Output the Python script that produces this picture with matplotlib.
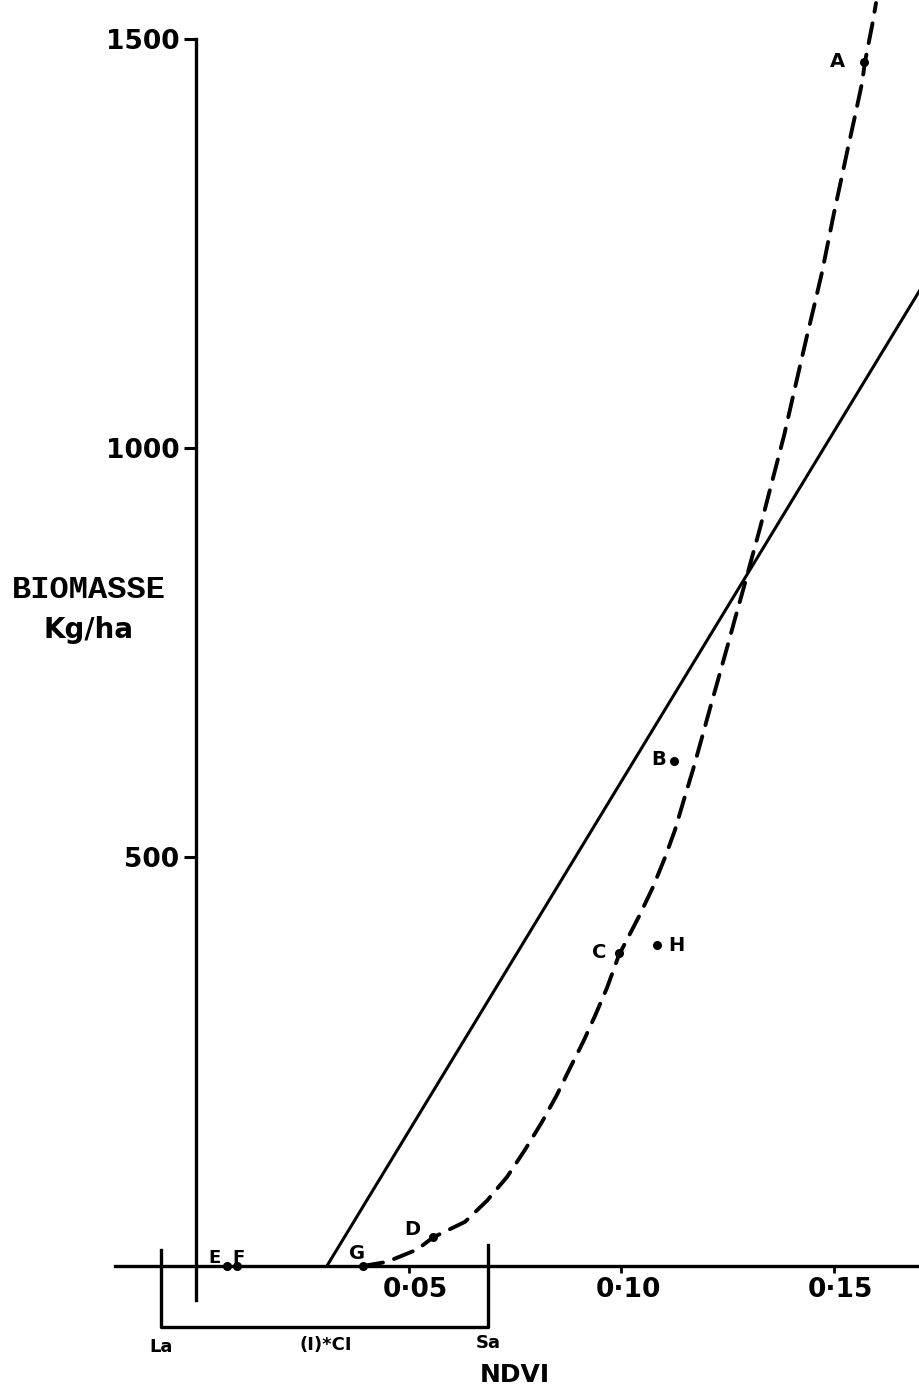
import matplotlib
matplotlib.use("Agg")
import matplotlib.pyplot as plt
from matplotlib.transforms import ScaledTranslation

# Sample sites: NDVI and measured biomass (kg/ha)
site_names = ["A", "B", "C", "D", "E", "F", "G", "H"]
site_ndvi = [0.1572, 0.1125, 0.0995, 0.0558, 0.0073, 0.0096, 0.0393, 0.1085]
site_biomass = [1472, 617, 383, 35, 0, 0, 0, 392]

# Linear regression (solid line)
linear_ndvi = [0.0308, 0.1750]
linear_biomass = [0, 1233]

# Curvilinear fit (dashed line)
curve_ndvi = [0.0393, 0.0449, 0.0520, 0.0558, 0.0633, 0.0685, 0.0732, 0.0774,
              0.0814, 0.0849, 0.0880, 0.0911, 0.0939, 0.0967, 0.0995, 0.1042,
              0.1075, 0.1104, 0.1127, 0.1148, 0.1169, 0.1191, 0.1209, 0.1228,
              0.1249, 0.1268, 0.1287, 0.1308, 0.1327, 0.1346, 0.1367, 0.1384,
              0.1402, 0.1421, 0.1438, 0.1456, 0.1473, 0.1487, 0.1501, 0.1518,
              0.1534, 0.1551, 0.1567, 0.1574, 0.1591, 0.1600]
curve_biomass = [0, 5, 20, 35, 54, 80, 109, 142,
                 176, 209, 242, 274, 306, 340, 380, 427,
                 463, 500, 533, 570, 606, 647, 681, 716,
                 755, 791, 826, 866, 902, 940, 982, 1016,
                 1057, 1100, 1138, 1177, 1215, 1251, 1287, 1328,
                 1367, 1407, 1446, 1472, 1517, 1544]

# Bare-soil NDVI interval
la_ndvi = -0.0082
sa_ndvi = 0.0687

x_ticks = [0.05, 0.10, 0.15]
x_tick_labels = ["0·05", "0·10", "0·15"]
y_ticks = [500, 1000, 1500]
y_tick_labels = ["500", "1000", "1500"]

W, H = 920, 1389
fig = plt.figure(figsize=(W / 100, H / 100), dpi=100)
ax = fig.add_axes([0, 0, 1, 1])
ax.set_xlim(-0.04612, 0.17035)
ax.set_ylim(-150.4, 1547.7)
ax.patch.set_visible(False)

for side in ("top", "right"):
    ax.spines[side].set_visible(False)
ax.spines["left"].set_position(("data", 0))
ax.spines["left"].set_bounds(-42, 1500)
ax.spines["left"].set_linewidth(2.4)
ax.spines["bottom"].set_position(("data", 0))
ax.spines["bottom"].set_bounds(-0.0191, 0.1704)
ax.spines["bottom"].set_linewidth(2.4)

ax.set_yticks(y_ticks, labels=y_tick_labels, fontsize=19, fontweight="bold")
ax.set_xticks(x_ticks, labels=x_tick_labels, fontsize=19, fontweight="bold")
ax.tick_params(axis="y", direction="out", length=9, width=2.2, pad=3)
ax.tick_params(axis="x", direction="out", length=5, width=2.0, pad=3)

# x tick labels sit slightly right of their ticks
shift = ScaledTranslation(5 / 72, 0, fig.dpi_scale_trans)
for lbl in ax.get_xticklabels():
    lbl.set_transform(lbl.get_transform() + shift)

# Regression lines
ax.plot(linear_ndvi, linear_biomass, color="black", lw=2.2, solid_capstyle="butt")
ax.plot(curve_ndvi, curve_biomass, color="black", lw=2.8,
        linestyle=(0, (5.2, 3.0)), dash_capstyle="round")

# Sites
ax.plot(site_ndvi, site_biomass, "o", ms=5.5, color="black", zorder=5)
label_offsets = {
    "A": (-19, 0), "B": (-11, 1), "C": (-14, 0), "D": (-15, 6),
    "E": (-9, 6), "F": (1, 6), "G": (-4, 9), "H": (14, 0),
}
for name, xv, yv in zip(site_names, site_ndvi, site_biomass):
    dx, dy = label_offsets[name]
    ax.annotate(name, (xv, yv), xytext=(dx, dy), textcoords="offset points",
                ha="center", va="center", fontsize=13 if name in "EF" else 14,
                fontweight="bold")

# Bare-soil interval bracket
ax.plot([la_ndvi, la_ndvi, sa_ndvi, sa_ndvi], [20, -74, -74, 26],
        color="black", lw=2.4, clip_on=False)
ax.text(la_ndvi, -99, "La", ha="center", va="center", fontsize=13, fontweight="bold")
ax.text(0.0306, -97, "(I)*CI", ha="center", va="center", fontsize=13, fontweight="bold")
ax.text(sa_ndvi, -94, "Sa", ha="center", va="center", fontsize=13, fontweight="bold")

# Axis titles
fig.text(89 / W, 1 - 590 / H, "BIOMASSE", ha="center", va="center",
         fontsize=23, fontweight="bold", family="Liberation Mono")
fig.text(89 / W, 1 - 630 / H, "Kg/ha", ha="center", va="center",
         fontsize=20, fontweight="bold")
fig.text(515 / W, 1 - 1375 / H, "NDVI", ha="center", va="center",
         fontsize=18, fontweight="bold")

fig.savefig("out.png", dpi=100)
